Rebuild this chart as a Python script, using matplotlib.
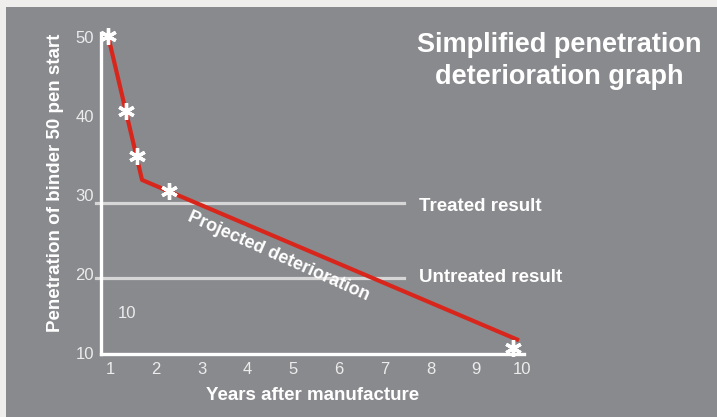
import matplotlib
matplotlib.use("Agg")
from matplotlib import pyplot as plt

plt.rcParams['font.family'] = ['Liberation Sans', 'DejaVu Sans']

# Red deterioration line (years, penetration)
line_years = [0.96, 1.70, 9.93]
line_pen = [50.1, 31.9, 11.6]

# Measured points (asterisks)
star_years = [0.96, 1.35, 1.59, 2.29, 9.8]
star_pen = [50.1, 40.6, 34.9, 30.5, 10.6]

# Reference levels
treated_level = 29.0
untreated_level = 19.5
level_start, level_end = 0.69, 7.42

x_ticks = [1, 2, 3, 4, 5, 6, 7, 8, 9, 10]
y_ticks = [10, 20, 30, 40, 50]

W, H = 717, 417
fig = plt.figure(figsize=(W / 100, H / 100), dpi=100)
fig.patch.set_facecolor('#efeeec')

# grey panel
panel = plt.Rectangle((6 / W, 0), 1, 1 - 7 / H, transform=fig.transFigure,
                      facecolor='#898a8d', edgecolor='none', zorder=-5)
fig.patches.append(panel)

ax = fig.add_axes([101 / W, 63 / H, 423 / W, 321 / H])
ax.set_zorder(2)
ax.set_facecolor('none')
ax.set_xlim(0.804, 10.04)
ax.set_ylim(9.87, 50.5)

for s in ['top', 'right']:
    ax.spines[s].set_visible(False)
for s in ['left', 'bottom']:
    ax.spines[s].set_color('white')
    ax.spines[s].set_linewidth(2.4)

ax.set_xticks(x_ticks)
ax.set_yticks(y_ticks)
ax.tick_params(length=0, colors='#ececec', labelsize=12)
ax.tick_params(axis='x', pad=6)
ax.tick_params(axis='y', pad=5)

gray = '#d6d6d6'
ax.plot([level_start, level_end], [treated_level, treated_level], color=gray,
        lw=2.3, clip_on=False, zorder=2)
ax.plot([level_start, level_end], [untreated_level, untreated_level], color=gray,
        lw=2.3, clip_on=False, zorder=2)

ax.plot(line_years, line_pen, color='#d8261c', lw=3, zorder=3, clip_on=False,
        solid_capstyle='butt')
ax.plot(star_years, star_pen, ls='none', marker=(6, 2, 0), ms=12, mew=2.4,
        color='white', zorder=4, clip_on=False)

def fx(px):
    return px / W

def fy(py):
    return 1 - py / H

fig.text(fx(419), fy(206), 'Treated result', color='white', fontsize=13.5,
         fontweight='bold', ha='left', va='center', zorder=5)
fig.text(fx(419), fy(277), 'Untreated result', color='white', fontsize=13.5,
         fontweight='bold', ha='left', va='center', zorder=5)
fig.text(fx(278), fy(256), 'Projected deterioration', color='white', fontsize=13,
         fontweight='bold', ha='center', va='center', rotation=-24,
         rotation_mode='anchor', zorder=5)
fig.text(fx(127), fy(314), '10', color='#ececec', fontsize=12,
         ha='center', va='center', zorder=5)

fig.text(fx(559), fy(61), 'Simplified penetration\ndeterioration graph',
         color='white', fontsize=19.5, fontweight='bold', ha='center',
         va='center', linespacing=1.25, zorder=5)

fig.text(fx(55), fy(183), 'Penetration of binder 50 pen start', color='white',
         fontsize=13.5, fontweight='bold', rotation=90, ha='center',
         va='center', zorder=5)
fig.text(fx(313), fy(395), 'Years after manufacture', color='white',
         fontsize=13.5, fontweight='bold', ha='center', va='center', zorder=5)

fig.savefig('out.png', dpi=100, facecolor=fig.get_facecolor())
